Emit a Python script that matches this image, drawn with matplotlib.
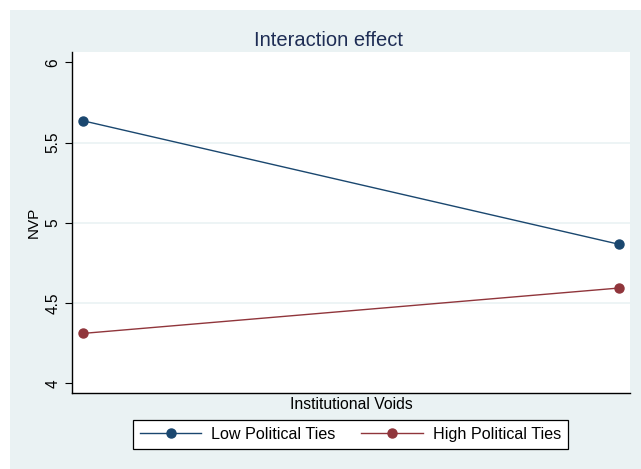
import matplotlib
matplotlib.use("Agg")
import matplotlib.pyplot as plt
from matplotlib.patches import Rectangle

plt.rcParams['font.family'] = ['Liberation Sans', 'DejaVu Sans']

# Data
x_levels = [0, 1]
series_names = ["Low Political Ties", "High Political Ties"]
low_ties = [5.636, 4.866]
high_ties = [4.311, 4.594]
y_ticks = [4, 4.5, 5, 5.5, 6]
y_tick_labels = ["4", "4.5", "5", "5.5", "6"]

navy = "#1A476F"
maroon = "#90353B"
bg = "#EAF2F3"

W, H = 641, 469
fig = plt.figure(figsize=(W / 100, H / 100), dpi=100)
fig.patch.set_facecolor("white")
fig.patches.append(Rectangle((10 / W, 0), 1, 1 - 10 / H, transform=fig.transFigure,
                             facecolor=bg, edgecolor="none", zorder=-10))

ax = fig.add_axes([72 / W, 1 - 393 / H, 558 / W, (393 - 52) / H])
ax.set_facecolor("white")

for yv in y_ticks[1:-1]:
    ax.axhline(yv, color=bg, lw=1.2, zorder=0)

ax.plot(x_levels, low_ties, color=navy, lw=1.0, marker="o", ms=6.5, label=series_names[0])
ax.plot(x_levels, high_ties, color=maroon, lw=1.0, marker="o", ms=6.5, label=series_names[1])

ax.set_xlim(-0.02, 1.02)
ax.set_ylim(3.94, 6.064)
ax.set_yticks(y_ticks)
ax.set_yticklabels(y_tick_labels, rotation=90, va="center", fontsize=11.2)
ax.tick_params(axis="y", length=5, width=0.8, pad=3.5, color="black")
ax.set_xticks([])

for s in ["top", "right"]:
    ax.spines[s].set_visible(False)
for s in ["left", "bottom"]:
    ax.spines[s].set_linewidth(1.0)
    ax.spines[s].set_color("black")

ax.set_ylabel("NVP", fontsize=11, labelpad=3)
ax.set_xlabel("Institutional Voids", fontsize=11.3, labelpad=3)
fig.text(328 / W, 1 - 45.5 / H, "Interaction effect", fontsize=14.5, color="#1E2D55",
         ha="center", va="baseline")

leg = fig.legend(loc="center", bbox_to_anchor=(350.5 / W, 1 - 434.5 / H), ncol=2,
                 fontsize=11.6, frameon=True, fancybox=False, framealpha=1,
                 edgecolor="black", handlelength=3.8, columnspacing=1.6,
                 handletextpad=0.62, borderpad=0.42)
leg.get_frame().set_linewidth(0.9)

fig.savefig("out.png", dpi=100, facecolor=fig.get_facecolor())
